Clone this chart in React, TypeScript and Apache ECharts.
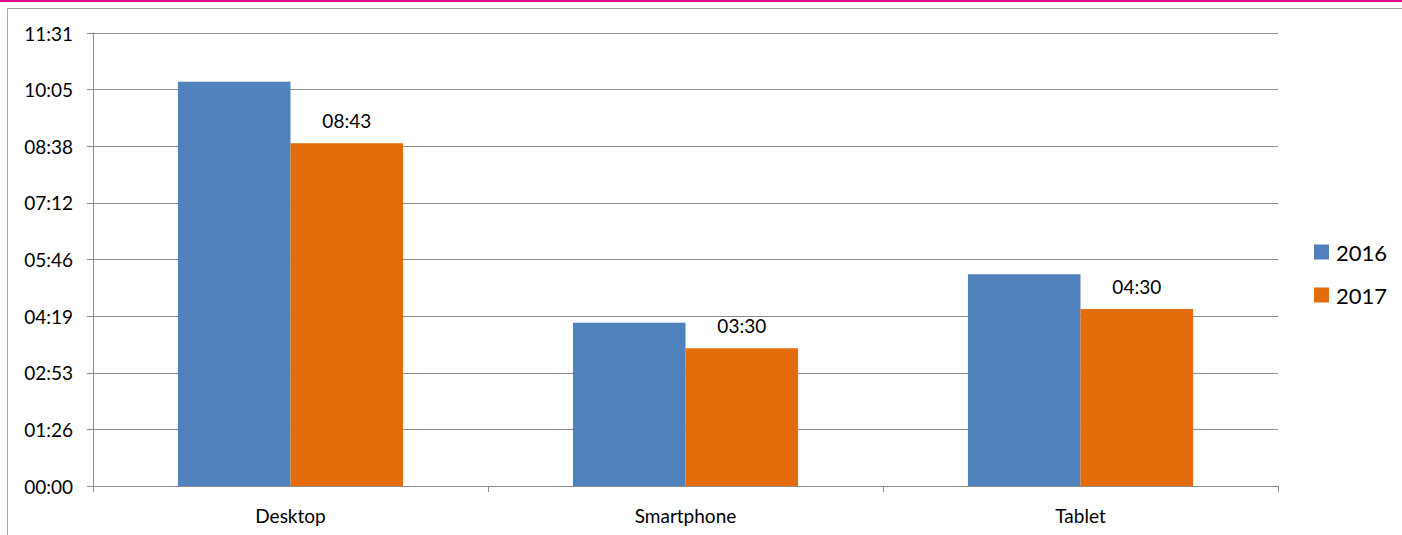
import React, { useEffect, useRef } from "react";
import * as echarts from "echarts";

const categories = ["Desktop", "Smartphone", "Tablet"];
const seriesNames = ["2016", "2017"];
// durations in seconds
const values2016 = [617, 249, 323];
const values2017 = [523, 210, 270];
// axis: Excel time ticks of 0.001 day (86.4 s)
const yMin = 0;
const yMax = 691.2;
const yInterval = 86.4;

function fmt(sec: number): string {
  const s = Math.round(sec);
  const m = Math.floor(s / 60);
  const r = s % 60;
  return String(m).padStart(2, "0") + ":" + String(r).padStart(2, "0");
}

const FONT = "Lato, 'Noto Sans', sans-serif";

export default function App() {
  const ref = useRef<HTMLDivElement>(null);
  useEffect(() => {
    if (!ref.current) return;
    const chart = echarts.init(ref.current, undefined, { renderer: "svg" });
    chart.setOption({
      animation: false,
      backgroundColor: "#ffffff",
      textStyle: { fontFamily: FONT },
      grid: { left: 93, right: 124, top: 33, bottom: 49, containLabel: false },
      legend: {
        orient: "vertical",
        left: 1314,
        top: 241,
        padding: 0,
        itemWidth: 15,
        itemHeight: 15,
        itemGap: 21,
        icon: "rect",
        textStyle: { fontSize: 22, color: "#000", fontFamily: FONT, padding: [0, 0, 0, 2] },
        data: seriesNames,
      },
      xAxis: {
        type: "category",
        data: categories,
        axisLine: { show: true, lineStyle: { color: "#8c8c8c", width: 1 } },
        axisTick: { show: true, length: 6, lineStyle: { color: "#8c8c8c" } },
        axisLabel: { color: "#000", fontSize: 19, margin: 20, fontFamily: FONT },
      },
      yAxis: {
        type: "value",
        min: yMin,
        max: yMax,
        interval: yInterval,
        axisLine: { show: true, lineStyle: { color: "#8c8c8c", width: 1 } },
        axisTick: { show: true, length: 6, lineStyle: { color: "#8c8c8c" } },
        splitLine: { show: true, lineStyle: { color: "#8c8c8c", width: 1 } },
        axisLabel: {
          color: "#000",
          fontSize: 19,
          margin: 20,
          fontFamily: FONT,
          formatter: (v: number) => fmt(v),
        },
      },
      series: [
        {
          name: seriesNames[0],
          type: "bar",
          data: values2016,
          barGap: "0%",
          barCategoryGap: "43%",
          itemStyle: { color: "#4F81BD" },
        },
        {
          name: seriesNames[1],
          type: "bar",
          data: values2017,
          barGap: "0%",
          barCategoryGap: "43%",
          itemStyle: { color: "#E46C0A" },
          label: {
            show: true,
            position: "top",
            distance: 13,
            color: "#000",
            fontSize: 19,
            fontFamily: FONT,
            formatter: (p: any) => fmt(p.value),
          },
        },
      ],
      graphic: [
        {
          type: "rect",
          shape: { x: 0, y: 0, width: 1402, height: 2 },
          style: { fill: "#E0068C" },
          silent: true,
        },
        {
          type: "line",
          shape: { x1: 7.5, y1: 8.5, x2: 1402, y2: 8.5 },
          style: { stroke: "#a6a6a6", lineWidth: 1 },
          silent: true,
        },
        {
          type: "line",
          shape: { x1: 7.5, y1: 8.5, x2: 7.5, y2: 535 },
          style: { stroke: "#a6a6a6", lineWidth: 1 },
          silent: true,
        },
      ],
    });
    return () => chart.dispose();
  }, []);
  return (
    <div
      ref={ref}
      style={{ position: "fixed", left: 0, top: 0, width: 1402, height: 535 }}
    />
  );
}
